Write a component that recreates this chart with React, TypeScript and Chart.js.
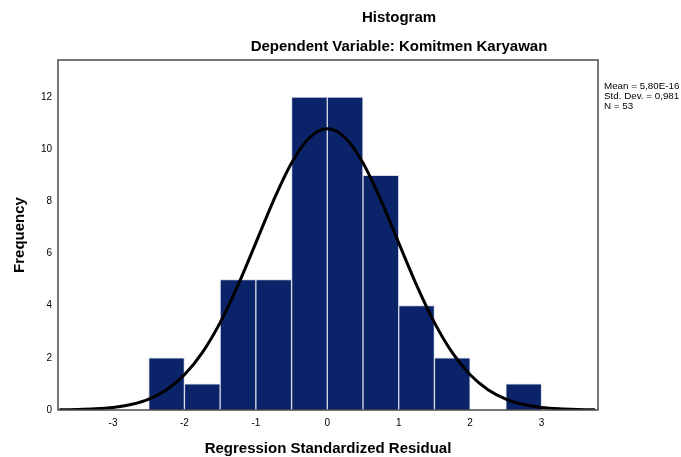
import React, { useEffect, useRef } from "react";
import { Chart, registerables } from "chart.js";

Chart.register(...registerables);

// Histogram bins (bin centres, width 0.5) and frequencies
const binCenters = [-2.25, -1.75, -1.25, -0.75, -0.25, 0.25, 0.75, 1.25, 1.75, 2.25, 2.75];
const frequencies = [2, 1, 5, 5, 12, 12, 9, 4, 2, 0, 1];

// Normal curve (x, y)
const curveX = [-3.75, -3.5, -3.25, -3, -2.75, -2.5, -2.25, -2, -1.75, -1.5, -1.25, -1, -0.75, -0.5, -0.25, 0, 0.25, 0.5, 0.75, 1, 1.25, 1.5, 1.75, 2, 2.25, 2.5, 2.75, 3, 3.25, 3.5, 3.75];
const curveY = [0.007, 0.019, 0.045, 0.1, 0.21, 0.42, 0.78, 1.35, 2.2, 3.35, 4.79, 6.41, 8.05, 9.47, 10.44, 10.78, 10.44, 9.47, 8.05, 6.41, 4.79, 3.35, 2.2, 1.35, 0.78, 0.42, 0.21, 0.1, 0.045, 0.019, 0.007];

const xTicks = [-3, -2, -1, 0, 1, 2, 3];
const yTicks = [0, 2, 4, 6, 8, 10, 12];

const titleText = "Histogram";
const subtitleText = "Dependent Variable: Komitmen Karyawan";
const xTitle = "Regression Standardized Residual";
const yTitle = "Frequency";
const statsLines = ["Mean = 5,80E-16", "Std. Dev. = 0,981", "N = 53"];

const FONT = "'Liberation Sans', Arial, sans-serif";

const textPlugin = {
  id: "textPlugin",
  afterDraw(chart: any) {
    const ctx = chart.ctx;
    const a = chart.chartArea;
    ctx.save();
    // plot border
    ctx.strokeStyle = "#4a4a4a";
    ctx.lineWidth = 1.5;
    ctx.strokeRect(a.left, a.top, a.right - a.left, a.bottom - a.top);

    ctx.fillStyle = "#000";
    ctx.textBaseline = "middle";
    ctx.textAlign = "center";
    ctx.font = `bold 15px ${FONT}`;
    ctx.fillText(titleText, 399, 18);
    ctx.fillText(subtitleText, 399, 47);

    ctx.fillText(xTitle, (a.left + a.right) / 2, 449);

    ctx.save();
    ctx.translate(20, (a.top + a.bottom) / 2);
    ctx.rotate(-Math.PI / 2);
    ctx.fillText(yTitle, 0, 0);
    ctx.restore();

    ctx.font = `9.8px ${FONT}`;
    ctx.textAlign = "left";
    statsLines.forEach((s, i) => ctx.fillText(s, a.right + 6, 86 + i * 10));
    ctx.restore();
  },
};

export default function App() {
  const ref = useRef<HTMLCanvasElement>(null);
  useEffect(() => {
    document.body.style.margin = "0";
    const chart = new Chart(ref.current!, {
      type: "bar",
      data: {
        datasets: [
          {
            type: "line",
            data: curveX.map((x, i) => ({ x, y: curveY[i] })),
            borderColor: "#000",
            borderWidth: 3,
            pointRadius: 0,
            cubicInterpolationMode: "monotone",
            fill: false,
            order: 0,
          } as any,
          {
            type: "bar",
            data: binCenters.map((x, i) => ({ x, y: frequencies[i] })),
            backgroundColor: "#0a2369",
            borderColor: "#d5dae8",
            borderWidth: 1,
            barPercentage: 1,
            categoryPercentage: 1,
            order: 1,
          } as any,
        ],
      },
      options: {
        animation: false,
        responsive: false,
        events: [],
        layout: { padding: { left: 0, right: 83, top: 60, bottom: 0 } },
        plugins: { legend: { display: false }, tooltip: { enabled: false }, title: { display: false } },
        scales: {
          x: {
            type: "linear",
            min: -3.77,
            max: 3.79,
            offset: false,
            grid: { display: false, drawTicks: false },
            border: { display: false },
            afterFit: (s: any) => { s.height = 47; },
            afterBuildTicks: (s: any) => { s.ticks = xTicks.map((v) => ({ value: v })); },
            ticks: { color: "#000", font: { family: FONT, size: 10 }, padding: 7, maxRotation: 0 },
          },
          y: {
            type: "linear",
            min: 0,
            max: 13.42,
            grid: { display: false, drawTicks: false },
            border: { display: false },
            afterFit: (s: any) => { s.width = 58; },
            afterBuildTicks: (s: any) => { s.ticks = yTicks.map((v) => ({ value: v })); },
            ticks: { color: "#000", font: { family: FONT, size: 10 }, padding: 6 },
          },
        },
      },
      plugins: [textPlugin],
    } as any);
    return () => chart.destroy();
  }, []);
  return <canvas ref={ref} width={681} height={457} style={{ display: "block" }} />;
}
